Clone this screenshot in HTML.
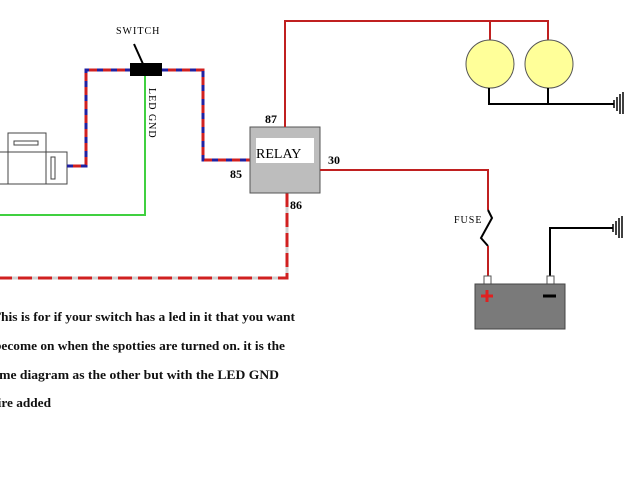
<!DOCTYPE html>
<html><head><style>body{margin:0;background:#fff}svg{display:block}</style></head><body>
<svg width="640" height="480" viewBox="0 0 640 480" xmlns="http://www.w3.org/2000/svg">
<rect width="640" height="480" fill="#fff"/>
<g fill="#fff" stroke="#444" stroke-width="1">
<rect x="8" y="133" width="38" height="30"/>
<rect x="-2" y="152" width="69" height="32"/>
<line x1="8" y1="152" x2="8" y2="184"/><line x1="46" y1="152" x2="46" y2="184"/>
<rect x="14" y="141" width="24" height="4"/>
<rect x="51" y="157" width="4" height="22"/>
</g>
<g fill="none" stroke-width="3">
<polyline points="67,166 86,166 86,70 130,70" stroke="#d02020"/>
<polyline points="67,166 86,166 86,70 130,70" stroke="#2020a0" stroke-dasharray="6,8"/>
<polyline points="162,70 203,70 203,160 250,160" stroke="#d02020"/>
<polyline points="162,70 203,70 203,160 250,160" stroke="#2020a0" stroke-dasharray="6,8"/>
<polyline points="287,193 287,278 0,278" stroke="#d0d0d0"/>
<polyline points="287,193 287,278 0,278" stroke="#d02020" stroke-dasharray="14,6"/>
</g>
<polyline points="145,76 145,215 0,215" fill="none" stroke="#40d040" stroke-width="2"/>
<rect x="130" y="63" width="32" height="13" fill="#000"/>
<line x1="134" y1="44" x2="143" y2="64" stroke="#000" stroke-width="2"/>
<text x="116" y="34" font-family="Liberation Serif, serif" font-size="10" letter-spacing="1">SWITCH</text>
<text transform="translate(149,88) rotate(90)" font-family="Liberation Serif, serif" font-size="10" letter-spacing="1">LED GND</text>
<rect x="250" y="127" width="70" height="66" fill="#bdbdbd" stroke="#555"/>
<rect x="256" y="138" width="58" height="25" fill="#fff"/>
<text x="256" y="158" font-family="Liberation Serif, serif" font-size="14">RELAY</text>
<g font-family="Liberation Serif, serif" font-size="12" font-weight="bold">
<text x="265" y="123">87</text><text x="230" y="178">85</text><text x="290" y="209">86</text><text x="328" y="164">30</text>
</g>
<polyline points="285,127 285,21 548,21 548,40" fill="none" stroke="#c02020" stroke-width="2"/>
<line x1="490" y1="21" x2="490" y2="40" stroke="#c02020" stroke-width="2"/>
<circle cx="490" cy="64" r="24" fill="#ffff99" stroke="#555"/>
<circle cx="549" cy="64" r="24" fill="#ffff99" stroke="#555"/>
<polyline points="489,88 489,104 614,104" fill="none" stroke="#000" stroke-width="2"/>
<line x1="548" y1="88" x2="548" y2="104" stroke="#000" stroke-width="2"/>
<g stroke="#000" stroke-width="1.5"><line x1="614" y1="100" x2="614" y2="108"/><line x1="617" y1="97" x2="617" y2="111"/><line x1="620" y1="94" x2="620" y2="114"/><line x1="623" y1="92" x2="623" y2="114"/></g>
<polyline points="320,170 488,170 488,210" fill="none" stroke="#c02020" stroke-width="2"/>
<polyline points="488,210 492,218 481,238 488,246" fill="none" stroke="#000" stroke-width="2"/>
<line x1="488" y1="246" x2="488" y2="276" stroke="#c02020" stroke-width="2"/>
<text x="454" y="223" font-family="Liberation Serif, serif" font-size="10" letter-spacing="1">FUSE</text>
<polyline points="550,276 550,228 613,228" fill="none" stroke="#000" stroke-width="2"/>
<g stroke="#000" stroke-width="1.5"><line x1="613" y1="224" x2="613" y2="232"/><line x1="616" y1="221" x2="616" y2="235"/><line x1="619" y1="218" x2="619" y2="238"/><line x1="622" y1="216" x2="622" y2="238"/></g>
<rect x="484" y="276" width="7" height="8" fill="#fff" stroke="#555"/>
<rect x="547" y="276" width="7" height="8" fill="#fff" stroke="#555"/>
<rect x="475" y="284" width="90" height="45" fill="#7a7a7a" stroke="#444"/>
<g stroke="#e02020" stroke-width="3"><line x1="481" y1="296" x2="493" y2="296"/><line x1="487" y1="290" x2="487" y2="302"/></g>
<line x1="543" y1="296" x2="556" y2="296" stroke="#000" stroke-width="3"/>
<g font-family="Liberation Serif, serif" font-size="13" font-weight="bold" fill="#111">
<text x="-8" y="321" textLength="303" lengthAdjust="spacingAndGlyphs">This is for if your switch has a led in it that you want</text>
<text x="-6" y="350" textLength="291" lengthAdjust="spacingAndGlyphs">become on when the spotties are turned on. it is the</text>
<text x="-13" y="379" textLength="292" lengthAdjust="spacingAndGlyphs">same diagram as the other but with the LED GND</text>
<text x="-12" y="407" textLength="63" lengthAdjust="spacingAndGlyphs">wire added</text>
</g>
</svg>
</body></html>
